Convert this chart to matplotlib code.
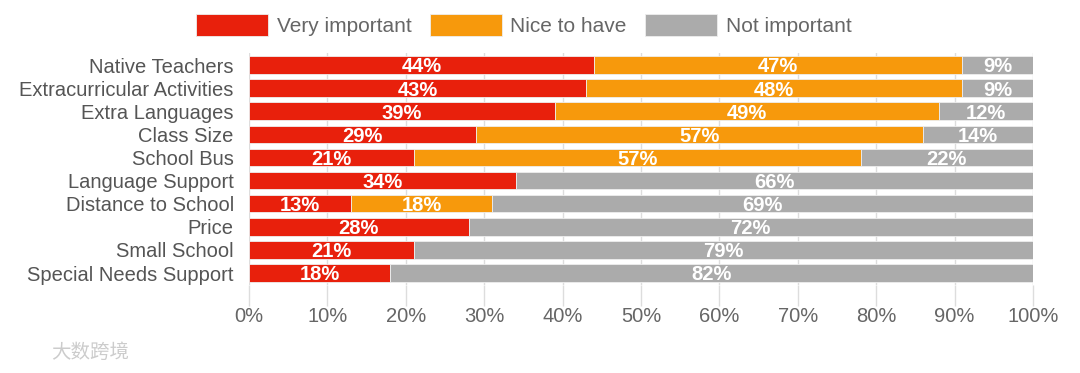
import numpy as np
import matplotlib
matplotlib.use("Agg")
import matplotlib.pyplot as plt

plt.rcParams['font.family'] = ['Liberation Sans', 'DejaVu Sans']

# === Data ===
categories = ["Native Teachers", "Extracurricular Activities", "Extra Languages",
              "Class Size", "School Bus", "Language Support", "Distance to School",
              "Price", "Small School", "Special Needs Support"]
very_important = [44, 43, 39, 29, 21, 34, 13, 28, 21, 18]
nice_to_have = [47, 48, 49, 57, 57, 0, 18, 0, 0, 0]
not_important = [9, 9, 12, 14, 22, 66, 69, 72, 79, 82]
series_names = ["Very important", "Nice to have", "Not important"]
colors = ["#E8200C", "#F7990C", "#ABABAB"]
x_ticks = [0, 10, 20, 30, 40, 50, 60, 70, 80, 90, 100]
x_tick_labels = [f"{t}%" for t in x_ticks]

fig = plt.figure(figsize=(10.8, 3.73), dpi=100)
ax = fig.add_axes([0.2306, 0.237, 0.7259, 0.6196])

y = np.arange(len(categories))
left = np.zeros(len(categories))
handles = []
for vals, name, col in zip([very_important, nice_to_have, not_important], series_names, colors):
    vals = np.array(vals, dtype=float)
    bars = ax.barh(y, vals, left=left, height=0.76, color=col, label=name,
                   edgecolor='#eeeeee', linewidth=0.6, zorder=3)
    handles.append(bars)
    for yi, l, v in zip(y, left, vals):
        if v > 0:
            ax.text(l + v / 2, yi + 0.08, f"{int(v)}%", ha='center', va='center',
                    color='white', fontweight='bold', fontsize=14.5, zorder=4)
    left += vals

ax.set_xlim(0, 100)
ax.set_ylim(len(categories) - 0.5, -0.5)
ax.set_yticks(y)
ax.set_yticklabels(categories, fontsize=14.5, color='#555555')
ax.set_xticks(x_ticks)
ax.set_xticklabels(x_tick_labels, fontsize=14.5, color='#666666')
ax.tick_params(axis='y', length=0, pad=11)
ax.tick_params(axis='x', length=15, color='#dddddd', width=1, pad=1, direction='out')
ax.grid(axis='x', color='#dddddd', linewidth=1, zorder=0)
for s in ax.spines.values():
    s.set_visible(False)

fig.legend(handles=handles, labels=series_names, loc='center', bbox_to_anchor=(0.485, 0.933),
           ncol=3, frameon=False, fontsize=15, handlelength=3.45, handleheight=1.3,
           columnspacing=0.9, handletextpad=0.4, labelcolor='#666666')

# watermark
fig.text(0.047, 0.055, "大数跨境", fontsize=14, color='#cccccc',
         family=['Noto Sans CJK SC', 'DejaVu Sans'], ha='left', va='center')

fig.savefig("out.png", dpi=100, facecolor='white')
